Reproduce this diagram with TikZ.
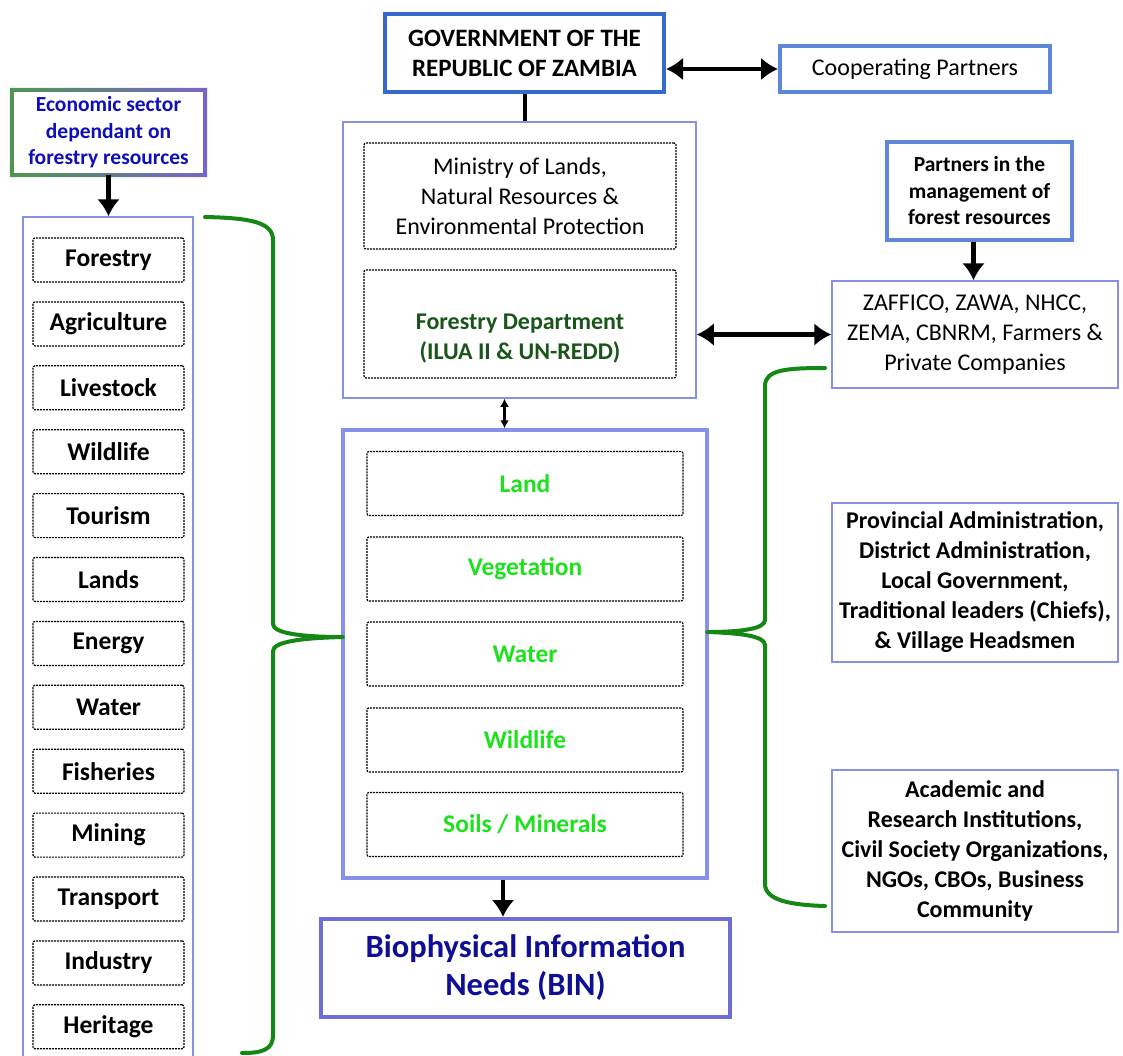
\documentclass[tikz,border=0pt]{standalone}
\usepackage{fontspec}
\setmainfont{Carlito}
\usetikzlibrary{arrows.meta}

\definecolor{govblue}{RGB}{55,105,205}
\definecolor{coopblue}{RGB}{95,135,215}
\definecolor{econgreen}{RGB}{80,150,80}
\definecolor{econviolet}{RGB}{120,100,200}
\definecolor{thinedge}{RGB}{135,145,225}
\definecolor{resedge}{RGB}{135,145,235}
\definecolor{binedge}{RGB}{110,110,215}
\definecolor{bracegreen}{RGB}{20,135,20}
\definecolor{resgreen}{RGB}{30,225,30}
\definecolor{fdgreen}{RGB}{25,85,25}
\definecolor{econblue}{RGB}{15,15,185}
\definecolor{binblue}{RGB}{15,15,150}

\newcommand{\zbody}{\fontsize{24}{30}\selectfont}
\newcommand{\zsect}{\bfseries\fontsize{25.5}{28}\selectfont}
\newcommand{\zhead}{\bfseries\fontsize{21.5}{26.5}\selectfont}
\newcommand{\zbin}{\bfseries\fontsize{32.5}{38}\selectfont}

\tikzset{
  thickbox/.style={draw=#1, line width=4pt, fill=white, align=center, inner sep=2pt},
  thinbox/.style={draw=thinedge, line width=1.5pt, align=center, inner sep=2pt},
  dashbox/.style={draw=black, line width=1.2pt, dash pattern=on 2pt off 1pt,
    rounded corners=2pt, align=center, inner sep=2pt},
  brace/.style={draw=bracegreen, line width=4pt, line cap=round, line join=round},
  bigtip/.style={>={Latex[length=17pt,width=23pt]}, line width=4.5pt},
}

\begin{document}
\begin{tikzpicture}[x=1pt, y=-1pt]
  \useasboundingbox (0,0) rectangle (1123,1055);

  % top row
  \node [thickbox=govblue, minimum width=279, minimum height=78, font=\fontsize{25}{30}\selectfont\bfseries] (G) at (524.5,53) {GOVERNMENT OF THE\\REPUBLIC OF ZAMBIA};
  \node [thickbox=coopblue, minimum width=270, minimum height=46, font=\zbody] (CP) at (915,69) {Cooperating Partners};
  \draw [<->, bigtip] (G.east |- CP.west) -- (CP.west);

  % ministry block
  \node [thinbox, minimum width=353, minimum height=276] (O1) at (519.5,260) {};
  \node [dashbox, minimum width=312, minimum height=106, font=\zbody] (M1) at (520,196) {Ministry of Lands,\\Natural Resources \&\\Environmental Protection};
  \node [dashbox, minimum width=312, minimum height=108, font=\zbody\bfseries, text=fdgreen] (M2) at (520,324) {\vphantom{X}\\Forestry Department\\(ILUA II \& UN-REDD)};
  \draw [line width=4pt] (G.south) -- (G.south |- O1.north);

  % resources block
  \node [draw=resedge, line width=3.5pt, minimum width=364, minimum height=448] (O2) at (525,654) {};
  \node [dashbox, minimum width=316, minimum height=64, font=\zsect, text=resgreen] (R1) at (525,483.5) {Land};
  \node [dashbox, minimum width=316, minimum height=64, font=\zsect, text=resgreen] (R2) at (525,569) {Vegetation};
  \node [dashbox, minimum width=316, minimum height=64, font=\zsect, text=resgreen] (R3) at (525,654) {Water};
  \node [dashbox, minimum width=316, minimum height=64, font=\zsect, text=resgreen] (R4) at (525,740) {Wildlife};
  \node [dashbox, minimum width=316, minimum height=64, font=\zsect, text=resgreen] (R5) at (525,824.5) {Soils / Minerals};
  \draw [<->, >={Latex[length=8pt,width=9pt]}, line width=2.2pt] ([xshift=-15pt]O1.south) -- ([xshift=-15pt]O1.south |- O2.north);

  \node [thickbox=binedge, minimum width=409, minimum height=98, font=\zbin, text=binblue] (BIN) at (525.5,968) {Biophysical Information\\Needs (BIN)};
  \draw [->, bigtip] ([xshift=-22pt]O2.south) -- ([xshift=-22pt]O2.south |- BIN.north);

  % economic sectors
  \node [fill=white, align=center, minimum width=193, minimum height=85, font=\zhead, text=econblue] (E) at (108.5,132.5) {Economic sector\\dependant on\\forestry resources};
  \shade [left color=econgreen, right color=econviolet, even odd rule]
    ([shift={(-2,2)}]E.south west) rectangle ([shift={(2,-2)}]E.north east)
    ([shift={(2,-2)}]E.south west) rectangle ([shift={(-2,2)}]E.north east);
  \node [thinbox, minimum width=170, minimum height=845] (L) at (108,639.5) {};
  \draw [->, bigtip] (E.south) -- (E.south |- L.north);
  \node [dashbox, minimum width=151, minimum height=44, font=\zsect] (S1) at (108.5,260) {Forestry};
  \node [dashbox, minimum width=151, minimum height=44, font=\zsect] (S2) at (108.5,323.9) {Agriculture};
  \node [dashbox, minimum width=151, minimum height=44, font=\zsect] (S3) at (108.5,387.8) {Livestock};
  \node [dashbox, minimum width=151, minimum height=44, font=\zsect] (S4) at (108.5,451.7) {Wildlife};
  \node [dashbox, minimum width=151, minimum height=44, font=\zsect] (S5) at (108.5,515.6) {Tourism};
  \node [dashbox, minimum width=151, minimum height=44, font=\zsect] (S6) at (108.5,579.5) {Lands};
  \node [dashbox, minimum width=151, minimum height=44, font=\zsect] (S7) at (108.5,643.4) {Energy};
  \node [dashbox, minimum width=151, minimum height=44, font=\zsect] (S8) at (108.5,707.3) {Water};
  \node [dashbox, minimum width=151, minimum height=44, font=\zsect] (S9) at (108.5,771.2) {Fisheries};
  \node [dashbox, minimum width=151, minimum height=44, font=\zsect] (S10) at (108.5,835.1) {Mining};
  \node [dashbox, minimum width=151, minimum height=44, font=\zsect] (S11) at (108.5,899) {Transport};
  \node [dashbox, minimum width=151, minimum height=44, font=\zsect] (S12) at (108.5,962.9) {Industry};
  \node [dashbox, minimum width=151, minimum height=44, font=\zsect] (S13) at (108.5,1026.8) {Heritage};

  % partners
  \node [thickbox=coopblue, minimum width=185, minimum height=98, font=\zhead] (PM) at (979.5,191) {Partners in the\\management of\\forest resources};
  \node [thinbox, minimum width=286, minimum height=107, font=\zbody] (P1) at (975,334.5) {ZAFFICO, ZAWA, NHCC,\\ZEMA, CBNRM, Farmers \&\\Private Companies};
  \draw [->, bigtip] ([xshift=-6pt]PM.south) -- ([xshift=-6pt]PM.south |- P1.north);
  \draw [<->, bigtip] (O1.east |- P1.west) -- (P1.west);
  \node [thinbox, minimum width=286, minimum height=159, font=\zbody\bfseries] (P2) at (975,582.5) {Provincial Administration,\\District Administration,\\Local Government,\\Traditional leaders (Chiefs),\\\& Village Headsmen};
  \node [thinbox, minimum width=286, minimum height=162, font=\zbody\bfseries] (P3) at (975,851) {Academic and\\Research Institutions,\\Civil Society Organizations,\\NGOs, CBOs, Business\\Community};

  % braces
  \draw [brace] (205,217) .. controls (250,218) and (273,222) .. (273,240) -- (273,624)
    .. controls (273,633) and (300,637) .. (343,637)
    .. controls (300,638) and (273,642) .. (273,651) -- (273,1035)
    .. controls (273,1050) and (262,1053) .. (242,1053);
  \draw [brace] (825,368) .. controls (785,368) and (765,370) .. (765,386) -- (765,620)
    .. controls (765,629) and (740,632) .. (707,632)
    .. controls (740,633) and (765,636) .. (765,645) -- (765,884)
    .. controls (765,900) and (790,905) .. (825,906);
\end{tikzpicture}
\end{document}
